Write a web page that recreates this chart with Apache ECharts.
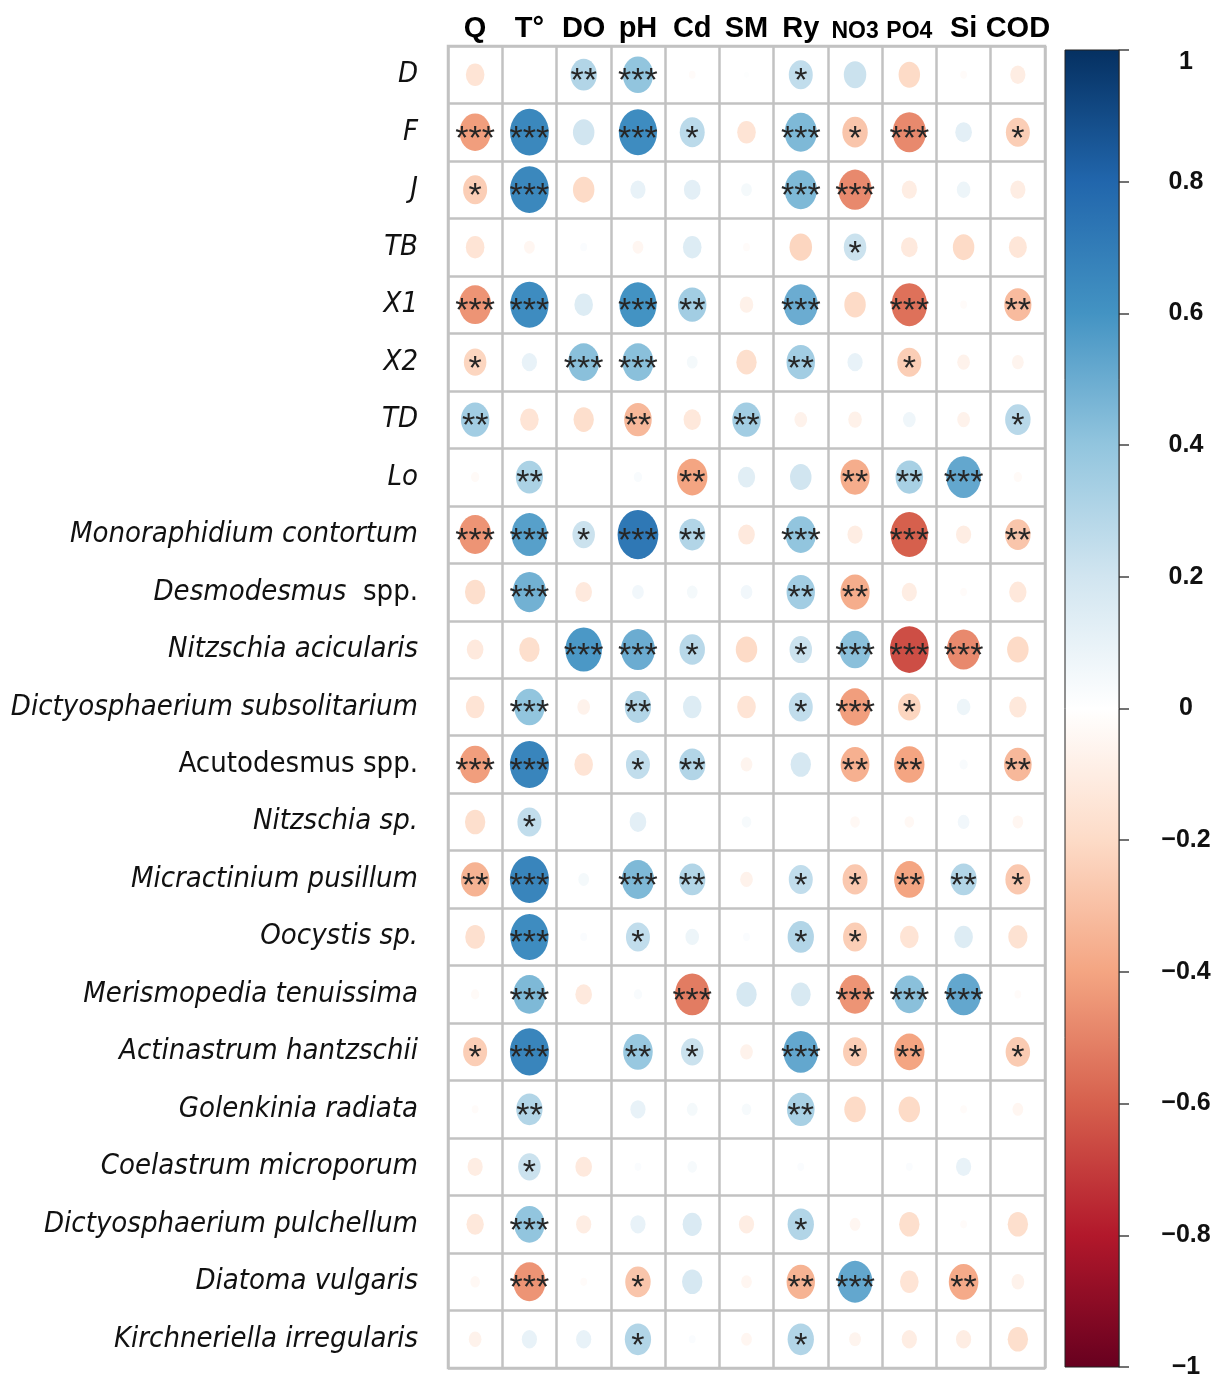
<!DOCTYPE html>
<html>
<head>
<meta charset="utf-8">
<script src="https://cdn.jsdelivr.net/npm/echarts@6/dist/echarts.min.js"></script>
<style>html,body{margin:0;padding:0;background:#fff;}#c{width:1221px;height:1375px;}</style>
</head>
<body>
<div id="c"></div>
<script>
const columns = ['Q', 'T°', 'DO', 'pH', 'Cd', 'SM', 'Ry', 'NO3', 'PO4', 'Si', 'COD'];
const smallColumns = ['NO3', 'PO4'];
const rows = ['D', 'F', 'J', 'TB', 'X1', 'X2', 'TD', 'Lo',
  'Monoraphidium contortum', 'Desmodesmus spp.', 'Nitzschia acicularis',
  'Dictyosphaerium subsolitarium', 'Acutodesmus spp.', 'Nitzschia sp.',
  'Micractinium pusillum', 'Oocystis sp.', 'Merismopedia tenuissima',
  'Actinastrum hantzschii', 'Golenkinia radiata', 'Coelastrum microporum',
  'Dictyosphaerium pulchellum', 'Diatoma vulgaris', 'Kirchneriella irregularis'];

// correlation coefficients (row-major, one list per row)
const corrValues = [
  [-0.15, 0, 0.3, 0.4, -0.02, 0.01, 0.25, 0.22, -0.2, -0.02, -0.1],
  [-0.42, 0.65, 0.2, 0.63, 0.27, -0.15, 0.45, -0.28, -0.48, 0.12, -0.25],
  [-0.25, 0.65, -0.2, 0.1, 0.12, 0.05, 0.45, -0.48, -0.1, 0.08, -0.1],
  [-0.15, -0.05, 0.02, -0.05, 0.15, -0.02, -0.22, 0.22, -0.12, -0.2, -0.14],
  [-0.45, 0.63, 0.15, 0.6, 0.35, -0.08, 0.5, -0.2, -0.55, -0.02, -0.32],
  [-0.22, 0.1, 0.42, 0.42, 0.05, -0.18, 0.35, 0.1, -0.25, -0.07, -0.06],
  [0.35, -0.15, -0.18, -0.33, -0.13, 0.35, -0.07, -0.08, 0.07, -0.07, 0.28],
  [-0.03, 0.32, 0, 0.03, -0.4, 0.13, 0.2, -0.37, 0.33, 0.52, -0.03],
  [-0.45, 0.55, 0.22, 0.72, 0.3, -0.12, 0.4, -0.1, -0.6, -0.1, -0.28],
  [-0.18, 0.48, -0.12, 0.06, 0.05, 0.06, 0.35, -0.37, -0.1, -0.02, -0.13],
  [-0.12, -0.18, 0.58, 0.5, 0.28, -0.2, 0.22, 0.42, -0.65, -0.48, -0.2],
  [-0.15, 0.4, -0.07, 0.3, 0.15, -0.15, 0.25, -0.42, -0.22, 0.08, -0.13],
  [-0.42, 0.66, -0.15, 0.25, 0.3, -0.06, 0.18, -0.36, -0.4, 0.03, -0.33],
  [-0.18, 0.25, 0, 0.12, 0, 0.04, 0, -0.04, -0.04, 0.06, -0.05],
  [-0.35, 0.66, 0.05, 0.45, 0.3, -0.07, 0.25, -0.27, -0.4, 0.3, -0.27],
  [-0.17, 0.63, 0.02, 0.25, 0.08, 0.02, 0.3, -0.25, -0.15, 0.15, -0.16],
  [-0.03, 0.45, -0.12, 0.03, -0.52, 0.18, 0.17, -0.45, 0.42, 0.52, -0.02],
  [-0.25, 0.66, 0, 0.38, 0.22, -0.07, 0.52, -0.25, -0.4, 0, -0.26],
  [-0.02, 0.3, 0, 0.1, 0.05, 0.04, 0.33, -0.2, -0.2, -0.02, -0.05],
  [-0.1, 0.22, -0.12, 0.02, 0.04, 0, 0.02, 0, 0.02, 0.1, 0],
  [-0.13, 0.4, -0.1, 0.1, 0.16, -0.1, 0.3, -0.05, -0.18, -0.02, -0.18],
  [-0.04, -0.45, -0.02, -0.28, 0.18, -0.05, -0.35, 0.52, -0.15, -0.38, -0.07],
  [-0.07, 0.1, 0.1, 0.3, 0.02, -0.05, 0.3, -0.06, -0.1, -0.1, -0.18]
];

// significance level: number of stars (0 = none)
const significance = [
  [0,0,2,3,0,0,1,0,0,0,0],
  [3,3,0,3,1,0,3,1,3,0,1],
  [1,3,0,0,0,0,3,3,0,0,0],
  [0,0,0,0,0,0,0,1,0,0,0],
  [3,3,0,3,2,0,3,0,3,0,2],
  [1,0,3,3,0,0,2,0,1,0,0],
  [2,0,0,2,0,2,0,0,0,0,1],
  [0,2,0,0,2,0,0,2,2,3,0],
  [3,3,1,3,2,0,3,0,3,0,2],
  [0,3,0,0,0,0,2,2,0,0,0],
  [0,0,3,3,1,0,1,3,3,3,0],
  [0,3,0,2,0,0,1,3,1,0,0],
  [3,3,0,1,2,0,0,2,2,0,2],
  [0,1,0,0,0,0,0,0,0,0,0],
  [2,3,0,3,2,0,1,1,2,2,1],
  [0,3,0,1,0,0,1,1,0,0,0],
  [0,3,0,0,3,0,0,3,3,3,0],
  [1,3,0,2,1,0,3,1,2,0,1],
  [0,2,0,0,0,0,2,0,0,0,0],
  [0,1,0,0,0,0,0,0,0,0,0],
  [0,3,0,0,0,0,1,0,0,0,0],
  [0,3,0,1,0,0,2,3,0,2,0],
  [0,0,0,1,0,0,1,0,0,0,0]
];

const palette = ['#67001F', '#B2182B', '#D6604D', '#F4A582', '#FDDBC7', '#FFFFFF',
  '#D1E5F0', '#92C5DE', '#4393C3', '#2166AC', '#053061'];

const data = [];
rows.forEach((r, i) => {
  columns.forEach((c, j) => {
    data.push([j, i, corrValues[i][j], significance[i][j]]);
  });
});

const chart = echarts.init(document.getElementById('c'));
const labelFont = '"DejaVu Sans Condensed", "Liberation Sans", sans-serif';
const GL = 448, GT = 46, GW = 597, GH = 1322;
const CB = { x: 1065, y: 50, w: 54, h: 1317 };

chart.setOption({
  animation: false,
  backgroundColor: '#ffffff',
  grid: [
    { left: GL, top: GT, width: GW, height: GH, containLabel: false, outerBoundsMode: 'none',
      show: true, borderColor: '#c2c2c2', borderWidth: 2.5, backgroundColor: '#fff' },
    { left: CB.x + CB.w, top: CB.y, width: 1, height: CB.h, containLabel: false, outerBoundsMode: 'none', show: false }
  ],
  xAxis: [
    {
      type: 'category', gridIndex: 0, position: 'top',
      data: columns.map(c => smallColumns.includes(c) ? { value: c, textStyle: { fontSize: 23 } } : c),
      axisLine: { show: false }, axisTick: { show: false },
      splitLine: { show: true, lineStyle: { color: '#c2c2c2', width: 2.5 } },
      axisLabel: { interval: 0, margin: 3, color: '#000', fontWeight: 'bold', fontSize: 29, fontFamily: '"Liberation Sans", Arial, sans-serif' }
    },
    { type: 'value', gridIndex: 1, show: false, min: 0, max: 1 }
  ],
  yAxis: [
    {
      type: 'category', gridIndex: 0, inverse: true, data: rows,
      axisLine: { show: false }, axisTick: { show: false },
      splitLine: { show: true, lineStyle: { color: '#c2c2c2', width: 2.5 } },
      axisLabel: {
        interval: 0, margin: 30,
        formatter: function (v) {
          if (v === 'Desmodesmus spp.') return '{i|Desmodesmus}{n|  spp.}';
          if (v === 'Acutodesmus spp.') return '{n|Acutodesmus spp.}';
          return '{i|' + v + '}';
        },
        rich: {
          i: { fontStyle: 'italic', fontSize: 29, fontFamily: labelFont, color: '#111' },
          n: { fontStyle: 'normal', fontSize: 29, fontFamily: labelFont, color: '#111' }
        }
      }
    },
    {
      type: 'value', gridIndex: 1, position: 'right', min: -1, max: 1, interval: 0.2,
      axisLine: { show: true, lineStyle: { color: '#888', width: 1.5 } },
      axisTick: { show: true, length: 10, lineStyle: { color: '#444', width: 1.5 } },
      splitLine: { show: false },
      axisLabel: {
        margin: 66, align: 'center', color: '#111', fontWeight: 'bold', fontSize: 25,
        fontFamily: '"Liberation Sans", Arial, sans-serif',
        formatter: function (v) {
          const r = Math.round(v * 10) / 10;
          const s = Math.abs(r) < 1e-9 ? '0' : String(r).replace('-', '\u2212');
          return r === 1 ? '{top|' + s + '}' : s;
        },
        rich: {
          top: { padding: [24, 0, 0, 0], color: '#111', fontWeight: 'bold', fontSize: 25,
            fontFamily: '"Liberation Sans", Arial, sans-serif' }
        }
      }
    }
  ],
  visualMap: {
    show: false, type: 'continuous', dimension: 2, min: -1, max: 1, seriesIndex: 0,
    inRange: { color: palette }
  },
  graphic: [
    {
      type: 'rect', z: 10,
      shape: { x: CB.x, y: CB.y, width: CB.w, height: CB.h },
      style: {
        fill: new echarts.graphic.LinearGradient(0, 0, 0, 1,
          palette.slice().reverse().map((c, k) => ({ offset: k / (palette.length - 1), color: c }))),
        stroke: '#222', lineWidth: 1
      }
    }
  ],
  series: [
    {
      type: 'scatter', xAxisIndex: 0, yAxisIndex: 0,
      data: data,
      symbol: 'circle',
      symbolSize: function (d) {
        const s = Math.sqrt(Math.abs(d[2]));
        return [48 * s, 58 * s];
      },
      itemStyle: { opacity: 1 },
      label: {
        show: true, position: 'inside',
        formatter: function (p) { return '*'.repeat(p.data[3]); },
        color: '#262626', fontSize: 34, fontFamily: '"Liberation Sans", Arial, sans-serif',
        offset: [0, 7]
      }
    }
  ]
});
</script>
</body>
</html>
